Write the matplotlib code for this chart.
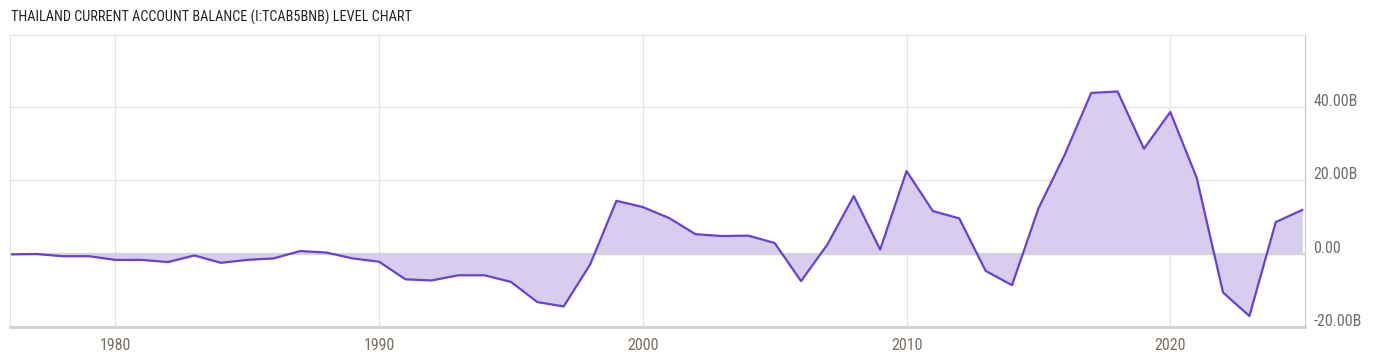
import matplotlib.pyplot as plt
import numpy as np
from matplotlib.transforms import ScaledTranslation
from matplotlib import font_manager

# annual current account balance, billions USD (as plotted)
years = list(range(1976, 2026))
balance = [-0.2, -0.1, -0.7, -0.7, -1.7, -1.7, -2.3, -0.5, -2.5, -1.7,
           -1.3, 0.7, 0.3, -1.3, -2.2, -7.0, -7.3, -5.9, -5.9, -7.7,
           -13.2, -14.4, -3.0, 14.4, 12.7, 9.7, 5.3, 4.8, 4.9, 2.9,
           -7.5, 2.5, 15.7, 1.1, 22.5, 11.6, 9.6, -4.7, -8.6, 12.3,
           27.0, 43.8, 44.2, 28.6, 38.6, 20.7, -10.6, -17.0, 8.6, 11.9]
yticks = [-20, 0, 20, 40]
ylabels = ['-20.00B', '0.00', '20.00B', '40.00B']
xticks = [1980, 1990, 2000, 2010, 2020]

# pick a condensed face if one is installed
names = {f.name for f in font_manager.fontManager.ttflist}
fam = 'Roboto'
for cand in ['Roboto Condensed', 'Liberation Sans Narrow', 'Archivo Narrow',
             'Asap Condensed', 'Barlow Condensed']:
    if cand in names:
        fam = cand
        break
plt.rcParams['font.family'] = [fam, 'DejaVu Sans']

fig = plt.figure(figsize=(14, 3.57), dpi=100)
ax = fig.add_axes([0.007, 0.084, 0.925, 0.818])

ax.fill_between(years, balance, 0, color='#d8cdef', linewidth=0)
ax.plot(years, balance, color='#6a3fd4', linewidth=1.6)

ax.set_xlim(1976, 2025.1)
ax.set_ylim(-20, 59.6)

ax.set_xticks(xticks)
ax.set_xticklabels([str(x) for x in xticks])
ax.set_yticks(yticks)
ax.set_yticklabels(ylabels)
ax.yaxis.tick_right()

ax.grid(True, color='#e3e3e3', linewidth=0.9)
ax.axhline(0, color='#d4d4d4', linewidth=1.6, zorder=1)
ax.set_axisbelow(True)

for s in ['top', 'left']:
    ax.spines[s].set_color('#e0e0e0')
ax.spines['right'].set_color('#c8c8c8')
ax.spines['bottom'].set_color('#d0d0d0')
ax.spines['bottom'].set_linewidth(2)

ax.tick_params(axis='both', length=0, labelsize=11.5, colors='#6e6e6e')
ax.tick_params(axis='x', pad=8, labelcolor='#7a6e62')
ax.tick_params(axis='y', pad=6)
off = ScaledTranslation(0, 0.07, fig.dpi_scale_trans)
for lab in ax.get_yticklabels():
    lab.set_transform(lab.get_transform() + off)

fig.text(0.008, 0.952, 'THAILAND CURRENT ACCOUNT BALANCE (I:TCAB5BNB) LEVEL CHART',
         fontsize=10.3, color='#222222', va='center', ha='left')

fig.savefig('out.png', dpi=100)
